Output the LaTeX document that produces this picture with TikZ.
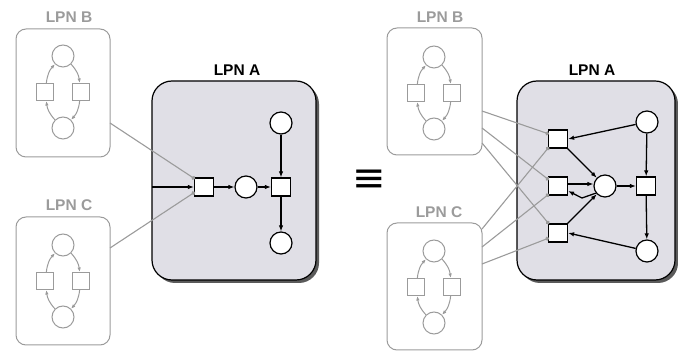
\documentclass[tikz,border=0pt]{standalone}
\usepackage{fontspec}
\setmainfont{Liberation Sans}
\newfontfamily\symfont{DejaVu Sans}
\usetikzlibrary{arrows.meta,positioning,calc}
\definecolor{lpngray}{RGB}{155,155,155}
\definecolor{lpnfill}{RGB}{224,223,230}
\definecolor{lpnshadow}{RGB}{90,90,90}
\tikzset{
  smallbox/.style={draw=lpngray, line width=1pt, rounded corners=10pt, inner sep=0pt},
  bigbox/.style={draw=black, line width=1.2pt, fill=lpnfill, rounded corners=20pt, inner sep=0pt},
  shadowbox/.style={fill=lpnshadow, rounded corners=20pt, inner sep=0pt, draw=none},
  gplace/.style={circle, draw=lpngray, fill=white, line width=1pt, minimum size=22pt, inner sep=0pt},
  gtrans/.style={rectangle, draw=lpngray, fill=white, line width=1pt, minimum size=17pt, inner sep=0pt},
  bplace/.style={circle, draw=black, fill=white, line width=1.2pt, minimum size=22pt, inner sep=0pt},
  btrans/.style={rectangle, draw=black, fill=white, line width=1.2pt, minimum width=19pt, minimum height=18pt, inner sep=0pt},
  garrow/.style={draw=lpngray, line width=1pt, -{Latex[length=4.5pt,width=3.5pt]}},
  barrow/.style={draw=black, line width=1.3pt, -{Latex[length=6pt,width=4.5pt]}},
  gline/.style={draw=lpngray, line width=1.1pt, -{Circle[length=4pt,width=4pt]}},
  glabel/.style={text=lpngray, font=\bfseries\fontsize{15.5}{17}\selectfont},
  blabel/.style={text=black, font=\bfseries\fontsize{15.5}{17}\selectfont},
}
\newcommand\minipn[3]{%
  \node[gplace] (#1t) at (#2,#3+36) {};
  \node[gplace] (#1b) at (#2,#3-36) {};
  \node[gtrans] (#1l) at (#2-18,#3) {};
  \node[gtrans] (#1r) at (#2+18,#3) {};
  \draw[garrow] (#1l) to[bend left=18] (#1t);
  \draw[garrow] (#1t) to[bend left=18] (#1r);
  \draw[garrow] (#1r) to[bend left=18] (#1b);
  \draw[garrow] (#1b) to[bend left=18] (#1l);
}
\begin{document}
\begin{tikzpicture}[x=1pt,y=1pt]
\useasboundingbox (0,0) rectangle (678,-352);
% ---------------- left side ----------------
\node[smallbox, minimum width=94pt, minimum height=128pt] (LB) at (63,-93) {};
\node[glabel] (LBl) at (69,-17) {LPN B};
\minipn{lb}{63}{-92}
\node[smallbox, minimum width=94pt, minimum height=128pt] (LC) at (63,-281) {};
\node[glabel] (LCl) at (69,-205) {LPN C};
\minipn{lc}{63}{-281}
% big box A
\node[shadowbox, minimum width=164pt, minimum height=199pt] (LAs) at (237,-183.5) {};
\node[bigbox, minimum width=164pt, minimum height=199pt] (LA) at (234,-180.5) {};
\node[blabel] (LAl) at (237,-70) {LPN A};
\node[btrans] (T1) at (204,-187) {};
\node[bplace] (P1) at (246,-187) {};
\node[btrans] (T2) at (281,-187) {};
\node[bplace] (Q1) at (281,-123) {};
\node[bplace] (Q2) at (281,-243) {};
\coordinate (in1) at (152,-187);
\draw[barrow] (in1) -- (T1);
\draw[barrow] (T1) -- (P1);
\draw[barrow] (P1) -- (T2);
\draw[barrow] (Q1) -- (T2);
\draw[barrow] (T2) -- (Q2);
\coordinate (lbo) at (110,-123);
\coordinate (lco) at (110,-248);
\coordinate (t1a) at (195,-179);
\coordinate (t1b) at (195,-192);
\draw[gline] (lbo) -- (t1a);
\draw[gline] (lco) -- (t1b);
% equivalence
\node (eq) at (369,-181) {\symfont\fontsize{40}{42}\selectfont ≡};
% ---------------- right side ----------------
\node[smallbox, minimum width=95pt, minimum height=127pt] (RB) at (434.5,-91.5) {};
\node[glabel] (RBl) at (440,-17) {LPN B};
\minipn{rb}{434}{-93}
\node[smallbox, minimum width=95pt, minimum height=127pt] (RC) at (434.5,-286.5) {};
\node[glabel] (RCl) at (439,-212) {LPN C};
\minipn{rc}{434}{-287}
\node[shadowbox, minimum width=158pt, minimum height=199pt] (RAs) at (599,-183.5) {};
\node[bigbox, minimum width=158pt, minimum height=199pt] (RA) at (596,-180.5) {};
\node[blabel] (RAl) at (592,-70) {LPN A};
\node[btrans] (Ta) at (558,-139) {};
\node[btrans] (Tb) at (558,-186) {};
\node[btrans] (Tc) at (558,-233) {};
\node[bplace] (P) at (605,-186) {};
\node[btrans] (Tr) at (646,-186) {};
\node[bplace] (Qt) at (647,-122) {};
\node[bplace] (Qb) at (647,-251) {};
\draw[barrow] (Qt) -- (Ta.east);
\draw[barrow] (Qb) -- (Tc.east);
\draw[barrow] (Ta) -- (P);
\draw[barrow] (Tc) -- (P);
\draw[barrow] ([yshift=2pt]Tb.east) -- ([yshift=2pt]P.west);
\coordinate (kink) at (582,-198);
\draw[barrow] (P.218) -- (kink) -- ([yshift=-5pt]Tb.east);
\draw[barrow] (Qt) -- (Tr);
\draw[barrow] (P) -- (Tr);
\draw[barrow] (Tr) -- (Qb);
% gray connections
\coordinate (rb1) at (482,-111);
\coordinate (rb2) at (482,-128);
\coordinate (rb3) at (482,-143);
\coordinate (rc1) at (482,-229);
\coordinate (rc2) at (482,-247);
\coordinate (rc3) at (482,-264);
\coordinate (ta1) at (549,-134);
\coordinate (ta2) at (549,-147);
\coordinate (tb1) at (549,-180);
\coordinate (tb2) at (549,-194);
\coordinate (tc1) at (549,-224);
\coordinate (tc2) at (549,-238);
\draw[gline] (rb1) -- (ta1);
\draw[gline] (rb2) -- (tb1);
\draw[gline] (rb3) -- (tc1);
\draw[gline] (rc1) -- (ta2);
\draw[gline] (rc2) -- (tb2);
\draw[gline] (rc3) -- (tc2);
\end{tikzpicture}
\end{document}
